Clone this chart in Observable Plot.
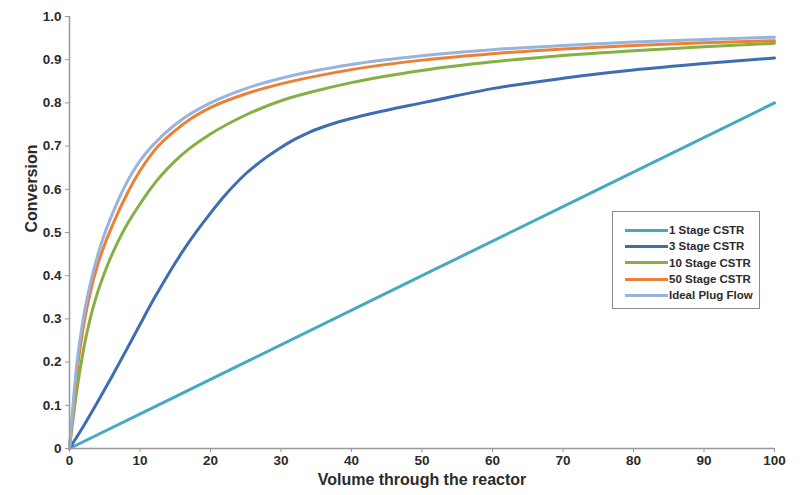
<!DOCTYPE html>
<html>
<head>
<meta charset="utf-8">
<script src="https://cdn.jsdelivr.net/npm/d3@7"></script>
<script src="https://cdn.jsdelivr.net/npm/@observablehq/plot@0.6"></script>
<style>
  html, body { margin: 0; padding: 0; background: #fff; }
  #wrap { position: relative; width: 801px; height: 495px; font-family: "Liberation Sans", Arial, sans-serif; }
  #legend { position: absolute; left: 612px; top: 211px; width: 148px; height: 98px; border: 1.5px solid #8a8a8a; box-sizing: border-box; background: #fff; padding-top: 10px; }
  .row { display: flex; align-items: center; height: 16.3px; font-size: 11.5px; font-weight: bold; color: #2b2b2b; }
  .sw { width: 43px; height: 3px; margin-left: 12px; margin-right: 1px; }
</style>
</head>
<body>
<div id="wrap"><div id="chart"></div><div id="legend"></div></div>
<script>
const seriesNames = ["1 Stage CSTR", "3 Stage CSTR", "10 Stage CSTR", "50 Stage CSTR", "Ideal Plug Flow"];
const seriesColors = ["#46a9c2", "#3d6db2", "#86b043", "#ec8034", "#98b3dc"];

const xTicks = [0, 10, 20, 30, 40, 50, 60, 70, 80, 90, 100];
const yTicks = [0, 0.1, 0.2, 0.3, 0.4, 0.5, 0.6, 0.7, 0.8, 0.9, 1.0];
const yTickLabels = ["0", "0.1", "0.2", "0.3", "0.4", "0.5", "0.6", "0.7", "0.8", "0.9", "1.0"];

const stage1X = [0, 25, 50, 75, 100];
const stage1Y = [0, 0.2, 0.4, 0.6, 0.8];

const stage3X = [0, 2, 4, 6, 8, 10, 12, 14, 16, 18, 20, 22, 25, 28, 30, 32, 34, 37, 40, 45, 50, 55, 60, 70, 80, 90, 100];
const stage3Y = [0, 0.052, 0.108, 0.166, 0.226, 0.287, 0.347, 0.403, 0.455, 0.502, 0.545, 0.585, 0.636, 0.675, 0.697, 0.716, 0.732, 0.750, 0.764, 0.783, 0.800, 0.817, 0.833, 0.857, 0.876, 0.891, 0.904];

const stage10X = [0, 1, 2, 3, 4, 5, 6, 7, 8, 9, 10, 11, 12, 13, 15, 17, 20, 25, 30, 35, 40, 50, 60, 70, 80, 90, 100];
const stage10Y = [0, 0.13, 0.23, 0.305, 0.362, 0.408, 0.448, 0.483, 0.514, 0.541, 0.566, 0.59, 0.612, 0.632, 0.666, 0.694, 0.728, 0.772, 0.805, 0.828, 0.847, 0.875, 0.895, 0.910, 0.921, 0.930, 0.938];

const stage50X = [0, 1, 2, 3, 4, 5, 6, 7, 8, 9, 10, 12, 15, 17, 20, 25, 30, 35, 40, 50, 60, 70, 80, 90, 100];
const stage50Y = [0, 0.17, 0.285, 0.365, 0.425, 0.473, 0.513, 0.55, 0.584, 0.615, 0.643, 0.689, 0.736, 0.761, 0.789, 0.821, 0.844, 0.862, 0.877, 0.899, 0.914, 0.925, 0.933, 0.939, 0.944];

const plugX = [0, 1, 2, 3, 4, 5, 6, 7, 8, 9, 10, 12, 15, 17, 20, 25, 30, 35, 40, 50, 60, 70, 80, 90, 100];
const plugY = [0, 0.19, 0.305, 0.385, 0.447, 0.498, 0.54, 0.578, 0.612, 0.641, 0.666, 0.705, 0.75, 0.773, 0.80, 0.833, 0.857, 0.875, 0.889, 0.909, 0.923, 0.933, 0.941, 0.947, 0.952];

const allX = [stage1X, stage3X, stage10X, stage50X, plugX];
const allY = [stage1Y, stage3Y, stage10Y, stage50Y, plugY];

const data = [];
seriesNames.forEach((name, i) => {
  allX[i].forEach((x, j) => data.push({series: name, x, y: allY[i][j]}));
});

const chart = Plot.plot({
  width: 801,
  height: 495,
  marginLeft: 69,
  marginRight: 27,
  marginTop: 16,
  marginBottom: 47,
  style: {fontFamily: "'Liberation Sans', Arial, sans-serif", fontWeight: "bold", fontSize: "13.5px", color: "#2b2b2b", background: "#fff"},
  x: {domain: [0, 100]},
  y: {domain: [0, 1]},
  color: {domain: seriesNames, range: seriesColors},
  marks: [
    Plot.line(data, {x: "x", y: "y", stroke: "series", z: "series", strokeWidth: 3, curve: "monotone-x"}),
    Plot.axisX({ticks: xTicks, tickSize: 4, tickPadding: 3, stroke: "#999", label: null, fontSize: 13.5}),
    Plot.axisY({ticks: yTicks, tickSize: 4, tickPadding: 4, stroke: "#999", label: null, fontSize: 13.5,
      tickFormat: (d) => yTickLabels[yTicks.findIndex(t => Math.abs(t - d) < 1e-9)]}),
    Plot.ruleX([0], {stroke: "#999", strokeWidth: 1.5}),
    Plot.ruleY([0], {stroke: "#999", strokeWidth: 1.5}),
    Plot.text(["Volume through the reactor"], {frameAnchor: "bottom", dy: 36, fontSize: 16, fontWeight: "bold", fill: "#2b2b2b"}),
    Plot.text(["Conversion"], {frameAnchor: "left", dx: -38, rotate: -90, fontSize: 16, fontWeight: "bold", fill: "#2b2b2b"})
  ]
});
document.getElementById("chart").appendChild(chart);

const legend = document.getElementById("legend");
seriesNames.forEach((name, i) => {
  const row = document.createElement("div");
  row.className = "row";
  const sw = document.createElement("div");
  sw.className = "sw";
  sw.style.background = seriesColors[i];
  const label = document.createElement("span");
  label.textContent = name;
  row.appendChild(sw);
  row.appendChild(label);
  legend.appendChild(row);
});
</script>
</body>
</html>
